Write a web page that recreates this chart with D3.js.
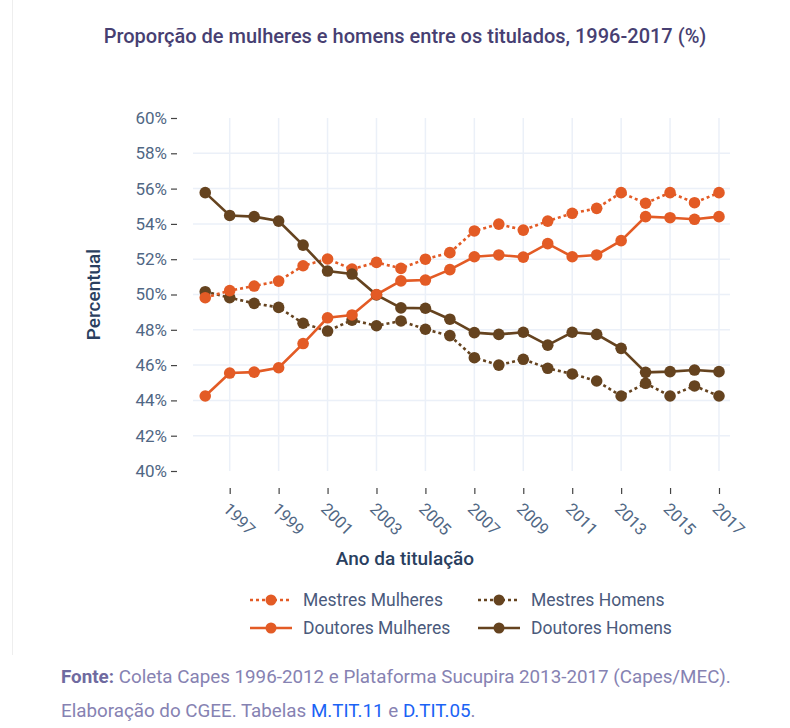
<!DOCTYPE html>
<html><head><meta charset="utf-8">
<script src="https://cdn.jsdelivr.net/npm/d3@7"></script>
<style>body{margin:0;background:#fff;}svg{display:block;font-family:Roboto,"Noto Sans",sans-serif;}</style>
</head><body>
<svg id="c" width="790" height="728"></svg>
<script>
const years = d3.range(1996, 2018);
const tickYears = [1997,1999,2001,2003,2005,2007,2009,2011,2013,2015,2017];
const yTicks = [40,42,44,46,48,50,52,54,56,58,60];
const seriesNames = ["Mestres Mulheres","Mestres Homens","Doutores Mulheres","Doutores Homens"];
const mestresMulheres = [49.82,50.22,50.48,50.76,51.63,52.01,51.44,51.82,51.48,52.00,52.37,53.60,53.99,53.65,54.16,54.60,54.88,55.77,55.17,55.77,55.20,55.77];
const mestresHomens  = [50.16,49.82,49.50,49.27,48.37,47.93,48.55,48.23,48.50,48.03,47.67,46.42,46.00,46.33,45.82,45.50,45.10,44.25,44.97,44.25,44.82,44.25];
const doutoresMulheres = [44.25,45.55,45.60,45.85,47.22,48.68,48.84,50.00,50.77,50.82,51.41,52.14,52.24,52.12,52.88,52.14,52.24,53.05,54.41,54.35,54.26,54.41];
const doutoresHomens = [55.77,54.48,54.41,54.16,52.80,51.33,51.16,49.98,49.24,49.22,48.60,47.84,47.74,47.86,47.13,47.86,47.74,46.95,45.59,45.63,45.72,45.63];

const ORANGE = "#e35b25", BROWN = "#65431f";
const series = [
  {name:seriesNames[0], values:mestresMulheres, color:ORANGE, dash:"3,3"},
  {name:seriesNames[1], values:mestresHomens, color:BROWN, dash:"3,3"},
  {name:seriesNames[2], values:doutoresMulheres, color:ORANGE, dash:null},
  {name:seriesNames[3], values:doutoresHomens, color:BROWN, dash:null}
];

const svg = d3.select("#c");
const L=193, R=730, T=118, B=471;
const x = d3.scaleLinear().domain([1995.5, 2017.45]).range([L,R]);
const y = d3.scaleLinear().domain([40,60]).range([B,T]);
const tickCol = "#506784";

svg.append("line").attr("x1",12.5).attr("x2",12.5).attr("y1",0).attr("y2",655).attr("stroke","#eeeeee").attr("stroke-width",1);

svg.append("text").attr("x",405).attr("y",43).attr("text-anchor","middle")
  .attr("font-size",20).attr("font-weight",500).attr("fill","#473f72")
  .text("Proporção de mulheres e homens entre os titulados, 1996-2017 (%)");

const g = svg.append("g");
g.selectAll(".vg").data(tickYears).join("line")
  .attr("x1",d=>x(d)).attr("x2",d=>x(d)).attr("y1",T).attr("y2",B)
  .attr("stroke","#ebf0f8").attr("stroke-width",1.5);
g.selectAll(".hg").data(yTicks.filter(v=>v>40&&v<60)).join("line")
  .attr("x1",L).attr("x2",R).attr("y1",d=>y(d)).attr("y2",d=>y(d))
  .attr("stroke","#ebf0f8").attr("stroke-width",1.5);

const yAxis = d3.axisLeft(y).tickValues(yTicks).tickFormat(d=>d+"%").tickSize(6).tickPadding(4);
const ya = svg.append("g").attr("transform",`translate(${L-16},0)`).call(yAxis);
ya.select(".domain").remove();
ya.selectAll(".tick line").attr("stroke","#444").attr("stroke-width",1.2);
ya.selectAll(".tick text").attr("font-size",17).attr("fill",tickCol).attr("font-family","Roboto");

const xAxis = d3.axisBottom(x).tickValues(tickYears).tickFormat(d3.format("d")).tickSize(6).tickPadding(0);
const xa = svg.append("g").attr("transform",`translate(0,${B+17})`).call(xAxis);
xa.select(".domain").remove();
xa.selectAll(".tick line").attr("stroke","#444").attr("stroke-width",1.2);
xa.selectAll(".tick text").attr("font-size",16.5).attr("fill",tickCol).attr("font-family","Roboto")
  .attr("text-anchor","start").attr("dy",null).attr("y",null)
  .attr("transform","translate(-8,22) rotate(45)");

svg.append("text").attr("transform",`translate(100,${(T+B)/2}) rotate(-90)`).attr("text-anchor","middle")
  .attr("font-size",19).attr("font-weight",500).attr("fill","#2a3f5f").text("Percentual");
svg.append("text").attr("x",405).attr("y",565).attr("text-anchor","middle")
  .attr("font-size",19).attr("font-weight",500).attr("fill","#2a3f5f").text("Ano da titulação");

const line = d3.line().x((d,i)=>x(years[i])).y(d=>y(d));
const order = [series[1],series[0],series[3],series[2]];
order.forEach(s=>{
  svg.append("path").attr("d",line(s.values)).attr("fill","none")
    .attr("stroke",s.color).attr("stroke-width",2.6)
    .attr("stroke-dasharray",s.dash);
});
order.forEach(s=>{
  svg.append("g").selectAll("circle").data(s.values).join("circle")
    .attr("cx",(d,i)=>x(years[i])).attr("cy",d=>y(d)).attr("r",5.8).attr("fill",s.color);
});

const legPos = [[250,600],[478,600],[250,628],[478,628]];
series.forEach((s,i)=>{
  const [lx,ly] = legPos[i];
  const lg = svg.append("g");
  lg.append("line").attr("x1",lx).attr("x2",lx+42).attr("y1",ly).attr("y2",ly)
    .attr("stroke",s.color).attr("stroke-width",2.6).attr("stroke-dasharray",s.dash);
  lg.append("circle").attr("cx",lx+21).attr("cy",ly).attr("r",5.5).attr("fill",s.color);
  lg.append("text").attr("x",lx+53).attr("y",ly+6).attr("font-size",17.5).attr("fill","#4a5a7c").text(s.name);
});

const f1 = svg.append("text").attr("x",61).attr("y",683).attr("font-size",18.8).attr("fill","#8682b2");
f1.append("tspan").attr("font-weight",700).attr("fill","#6f6aa0").text("Fonte:");
f1.append("tspan").text(" Coleta Capes 1996-2012 e Plataforma Sucupira 2013-2017 (Capes/MEC).");
const f2 = svg.append("text").attr("x",61).attr("y",717).attr("font-size",18.8).attr("fill","#8682b2");
f2.append("tspan").text("Elaboração do CGEE. Tabelas ");
f2.append("tspan").attr("fill","#1b63f5").text("M.TIT.11");
f2.append("tspan").text(" e ");
f2.append("tspan").attr("fill","#1b63f5").text("D.TIT.05");
f2.append("tspan").text(".");
</script>
</body></html>
